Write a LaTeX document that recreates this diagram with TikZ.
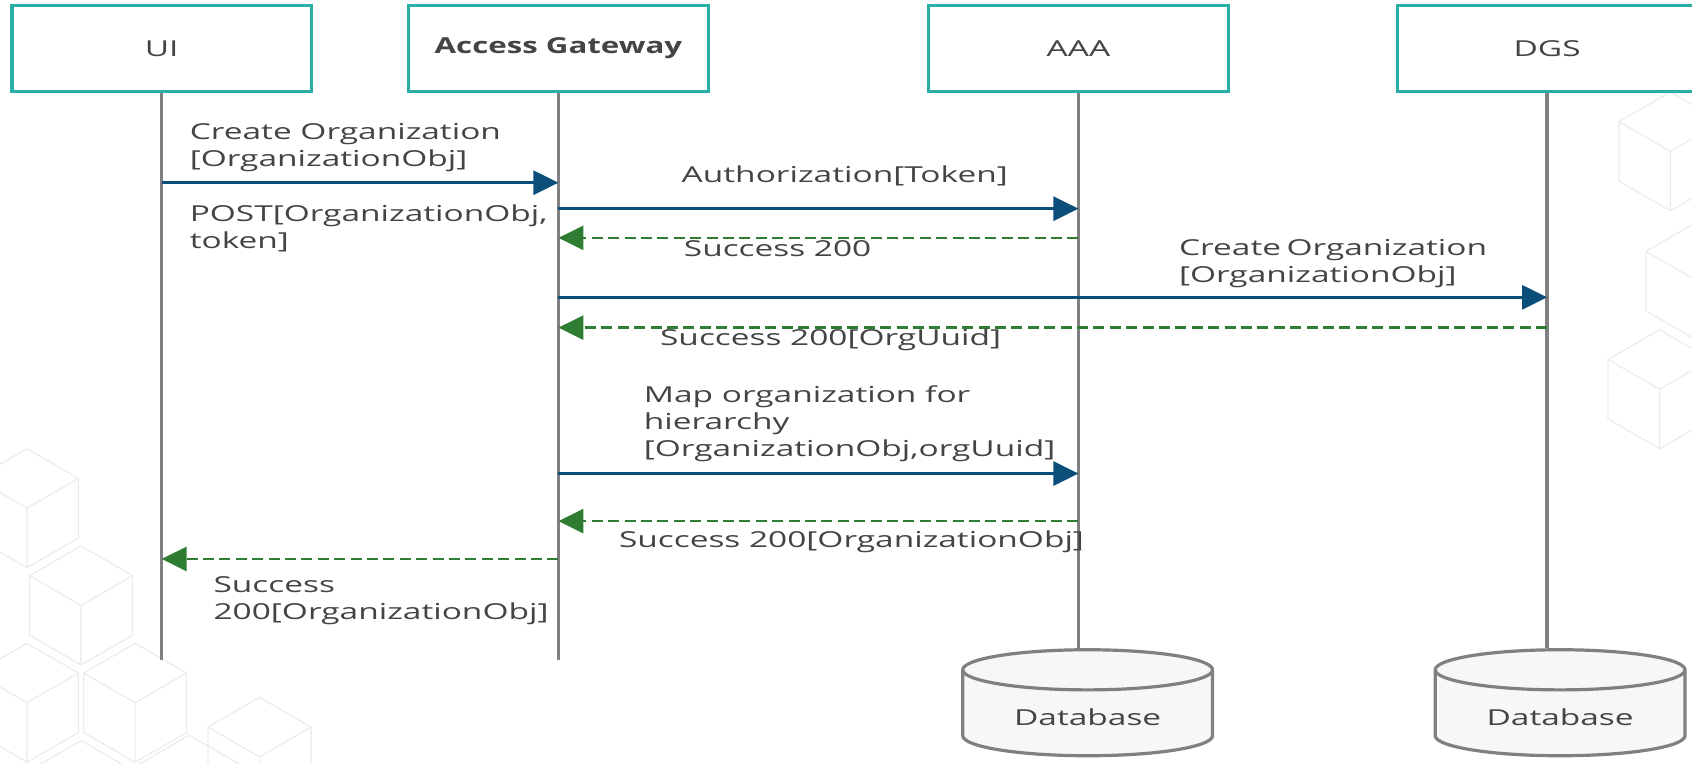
\documentclass[tikz,border=0pt]{standalone}
\usepackage{fontspec}
\usepackage{graphicx}
\setmainfont{Open Sans}
\usetikzlibrary{
  arrows.meta,
  shapes.geometric,
  positioning
}
\definecolor{boxteal}{RGB}{43,174,166}
\definecolor{lifegray}{RGB}{128,128,128}
\definecolor{callblue}{RGB}{12,78,122}
\definecolor{replygreen}{RGB}{46,125,50}
\definecolor{txtgray}{RGB}{68,68,68}
\definecolor{dbfill}{RGB}{247,247,247}
\definecolor{cubegray}{RGB}{236,236,236}
\newcommand{\wide}[2][1.52]{\scalebox{#1}[1]{#2}}
\tikzset{
  >={Triangle[length=12.5pt, width=12pt]},
  actor/.style = {draw=boxteal, line width=1.6pt, minimum width=149.7pt,
    minimum height=43.2pt, inner sep=0pt, text=txtgray,
    font=\fontsize{11}{13.5}\selectfont},
  life/.style = {draw=lifegray, line width=1.8pt},
  call/.style = {->, draw=callblue, line width=1.35pt},
  reply/.style = {->, draw=replygreen, line width=1.35pt,
    dash pattern=on 5.5pt off 2.7pt},
  msg/.style = {anchor=north west, align=left, inner sep=0pt, text=txtgray,
    font=\fontsize{11}{13.5}\selectfont, xscale=1.52},
  db/.style = {cylinder, shape border rotate=90, draw=lifegray, fill=dbfill,
    line width=1.6pt, minimum width=124.9pt, minimum height=53pt,
    aspect=0.25, text=txtgray, font=\fontsize{11}{13.5}\selectfont},
  isocube/.pic = {
    \draw[cubegray, line width=0.6pt]
      (30:1) -- (90:1) -- (150:1) -- (210:1) -- (270:1) -- (330:1) -- cycle
      (0,0) -- (90:1) (0,0) -- (210:1) (0,0) -- (330:1);
  },
}
\begin{document}
\begin{tikzpicture}[x=0.5406pt, y=-0.5406pt]
  \useasboundingbox[fill=white] (0,0) rectangle (1565,706);

  % faint background cubes
  \foreach \cx/\cy in {25/470, 75/560, 25/650, 125/650, 75/740, 175/735,
      240/700, 1545/140, 1570/260, 1535/360}
    \pic[scale=55] at (\cx,\cy) {isocube};

  % participants
  \node[actor] (ui) at (149.5,45) {\wide{UI}};
  \node[actor] (ag) at (516.5,45) {\wide[1.42]{\bfseries Access Gateway}};
  \node[actor] (aaa) at (997.5,45) {\wide{AAA}};
  \node[actor] (dgs) at (1431,45) {\wide{DGS}};
  \node[db] (db1) at (1006,663) {\wide{Database}};
  \node[db] (db2) at (1443,663) {\wide{Database}};

  \coordinate (bottom) at (0,610);
  \draw[life] (ui.south) -- (ui.south |- bottom);
  \draw[life] (ag.south) -- (ag.south |- bottom);
  \draw[life] (aaa.south) -- (aaa.south |- db1.north);
  \draw[life] (dgs.south) -- (dgs.south |- db2.north);

  % message rows
  \coordinate (m1) at (0,169);
  \coordinate (m2) at (0,193);
  \coordinate (m3) at (0,220);
  \coordinate (m4) at (0,275);
  \coordinate (m5) at (0,303);
  \coordinate (m6) at (0,438);
  \coordinate (m7) at (0,482);
  \coordinate (m8) at (0,517);

  \draw[call] (ui |- m1) -- (ag |- m1);
  \draw[call] (ag |- m2) -- (aaa |- m2);
  \draw[reply] (aaa |- m3) -- (ag |- m3);
  \draw[call] (ag |- m4) -- (dgs |- m4);
  \draw[reply] (dgs |- m5) -- (ag |- m5);
  \draw[call] (ag |- m6) -- (aaa |- m6);
  \draw[reply] (aaa |- m7) -- (ag |- m7);
  \draw[reply] (ag |- m8) -- (ui |- m8);

  % labels
  \node[msg] (lcreate) at (175,114) {Create Organization\\{}[OrganizationObj]};
  \node[msg] (lpost) at (175,189) {POST[OrganizationObj,\\token]};
  \node[msg] (lauth) at (630,153) {Authorization[Token]};
  \node[msg] (lok1) at (632,222) {Success 200};
  \node[msg] (ldgs) at (1090,221) {Create\,Organization\\{}[OrganizationObj]};
  \node[msg] (lok2) at (610,304) {Success 200[OrgUuid]};
  \node[msg] (lmap) at (595,356) {Map organization for\\hierarchy\\{}[OrganizationObj,orgUuid]};
  \node[msg] (lok3) at (572,491) {Success 200[OrganizationObj]};
  \node[msg] (lok4) at (197,533) {Success\\200[OrganizationObj]};
\end{tikzpicture}
\end{document}
